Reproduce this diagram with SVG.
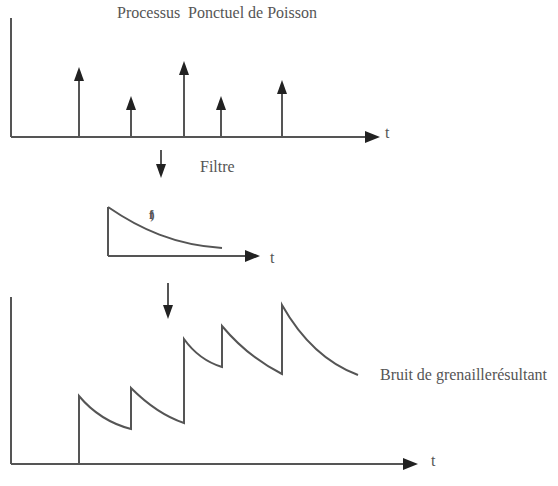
<svg xmlns="http://www.w3.org/2000/svg" width="558" height="486" viewBox="0 0 558 486">
  <defs>
    <marker id="ah" viewBox="0 0 14 10" refX="4" refY="5" markerWidth="14" markerHeight="10" markerUnits="userSpaceOnUse" orient="auto">
      <path d="M0,0 L14,5 L0,10 Z" fill="#222"/>
    </marker>
    <marker id="axis" viewBox="0 0 15 12" refX="5" refY="6" markerWidth="15" markerHeight="12" markerUnits="userSpaceOnUse" orient="auto">
      <path d="M0,0 L15,6 L0,12 Z" fill="#222"/>
    </marker>
  </defs>
  <style>
    .ln { stroke: #555; stroke-width: 2; fill: none; }
    .ax { stroke: #555; stroke-width: 2; fill: none; marker-end: url(#axis); }
    .sp { stroke: #555; stroke-width: 2; fill: none; marker-end: url(#ah); }
    .wave { stroke: #555; stroke-width: 2; fill: none; stroke-linejoin: miter; }
    .tx { font-family: "Liberation Serif", "Times New Roman", serif; font-size: 16px; fill: #555; }
  </style>
  <rect width="558" height="486" fill="#fff"/>

  <g id="poisson-process">
    <text class="tx" x="117" y="18" xml:space="preserve">Processus  Ponctuel de Poisson</text>
    <line class="ln" x1="11" y1="18" x2="11" y2="137"/>
    <line class="ax" x1="11" y1="137" x2="370" y2="137"/>
    <text class="tx" x="385" y="138">t</text>
    <line class="sp" x1="79" y1="137" x2="79" y2="77"/>
    <line class="sp" x1="131" y1="137" x2="131" y2="106"/>
    <line class="sp" x1="184" y1="137" x2="184" y2="71"/>
    <line class="sp" x1="221" y1="137" x2="221" y2="106"/>
    <line class="sp" x1="282" y1="137" x2="282" y2="90"/>
  </g>

  <g id="filter">
    <text class="tx" x="200" y="172">Filtre</text>
    <line class="ln" x1="108" y1="207" x2="108" y2="256"/>
    <line class="ax" x1="108" y1="256" x2="250" y2="256"/>
    <path class="ln" d="M108,207 C140,229 175,245 222,248"/>
    <text class="tx" x="149" y="219" style="font-size:13px;font-weight:bold" letter-spacing="-3">f)</text>
    <text class="tx" x="270" y="263">t</text>
  </g>

  <g id="shot-noise">
    <line class="ln" x1="11" y1="297" x2="11" y2="464"/>
    <line class="ax" x1="11" y1="464" x2="408" y2="464"/>
    <text class="tx" x="431" y="466">t</text>
    <path class="wave" d="M79,464 V396 Q100,421 131,429 V388 Q157,414 184,423 V339 Q199,360 222,367 V326 Q248,357 282,374 V305 Q312,358 358,375"/>
    <text class="tx" x="380" y="380" textLength="167">Bruit de grenaillerésultant</text>
  </g>

  <g id="connectors">
    <line class="sp" x1="161" y1="150" x2="161" y2="168"/>
    <line class="sp" x1="168" y1="283" x2="168" y2="309"/>
  </g>
</svg>
